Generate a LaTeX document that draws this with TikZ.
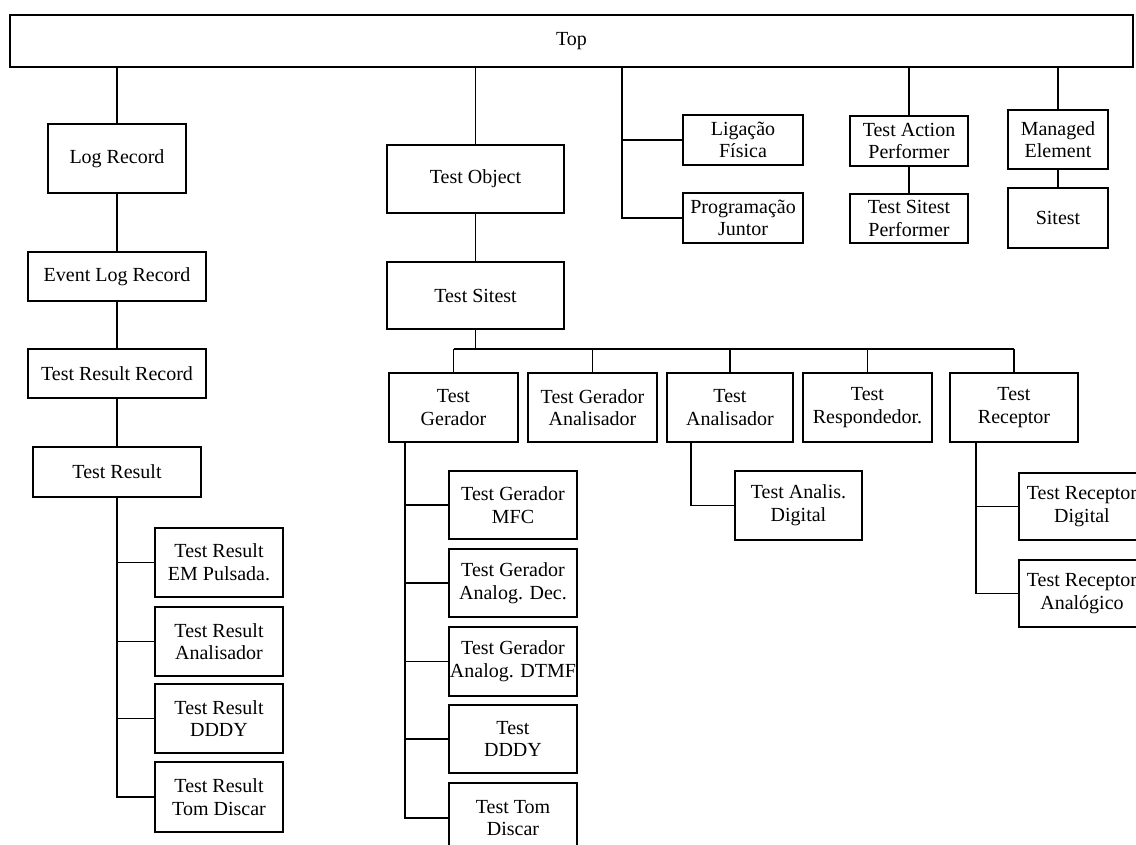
\documentclass[tikz,border=0pt]{standalone}
\usepackage{fontspec}
\setmainfont{Liberation Serif}
\tikzset{
  bx/.style 2 args={draw, inner sep=0pt, align=center,
    minimum width=#1*0.75pt, minimum height=#2*0.75pt,
    font=\fontsize{15}{17}\selectfont}
}
\begin{document}
\begin{tikzpicture}[x=0.75pt,y=0.75pt,yscale=-1,xscale=1,line width=1.4pt]
\useasboundingbox (0,0) rectangle (1136,845);
\clip (0,0) rectangle (1136,845);

% Top
\draw (571.5,41) node [bx={1123}{52}] (top) {Top};

%Column: Log Record
\draw (117,158.5) node [bx={138}{69}] (logrec) {Log Record};
\draw (117,276.5) node [bx={178}{49}] (evlog) {Event Log Record};
\draw (117,373.5) node [bx={178}{49}] (trrec) {Test Result Record};
\draw (117,472) node [bx={168}{50}] (tres) {Test Result};
\draw (219,562.5) node [bx={128}{69}] (trem) {Test Result\\EM Pulsada.};
\draw (219,641.5) node [bx={128}{69}] (tran) {Test Result\\Analisador};
\draw (219,718.5) node [bx={128}{69}] (trdddy) {Test Result\\DDDY};
\draw (219,797) node [bx={128}{70}] (trtom) {Test Result\\Tom Discar};

\draw (top.south -| logrec.north) -- (logrec.north);
\draw (logrec) -- (evlog);
\draw (evlog) -- (trrec);
\draw (trrec) -- (tres);
\draw (tres.south) |- (trtom.west);
\foreach \n in {trem,tran,trdddy}
  \draw (\n.west) -- (\n.west -| tres.south);

%Column: Test Object
\draw (475.5,179) node [bx={177}{68}] (tobj) {Test Object};
\draw (475.5,295.5) node [bx={177}{67}] (tsit) {Test Sitest};
\draw (top.south -| tobj.north) -- (tobj.north);
\draw (tobj) -- (tsit);

%Column: Ligacao / Programacao
\draw (743,140) node [bx={120}{50}] (lig) {Ligação\\Física};
\draw (743,218) node [bx={120}{50}] (prog) {Programação\\Juntor};
\coordinate (ligspine) at (622,0);
\draw (top.south -| ligspine) |- (prog.west);
\draw (lig.west) -- (lig.west -| ligspine);

%Column: Test Action Performer
\draw (909,141) node [bx={118}{50}] (tap) {Test Action\\Performer};
\draw (909,218.5) node [bx={118}{49}] (tsp) {Test Sitest\\Performer};
\draw (top.south -| tap.north) -- (tap.north);
\draw (tap) -- (tsp);

%Column: Managed Element
\draw (1058,139.5) node [bx={100}{59}] (manel) {Managed\\Element};
\draw (1058,218) node [bx={100}{60}] (site) {Sitest};
\draw (top.south -| manel.north) -- (manel.north);
\draw (manel) -- (site);

%Row under Test Sitest
\draw (453.5,407.5) node [bx={129}{69}] (tger) {Test\\Gerador};
\draw (592.5,407.5) node [bx={129}{69}] (tga) {Test Gerador\\Analisador};
\draw (730,407.5) node [bx={126}{69}] (tan) {Test\\Analisador};
\draw (867.5,407.5) node [bx={129}{69}] (tresp) {Test\\Respondedor.};
\draw (1014,407.5) node [bx={128}{69}] (trec) {Test\\Receptor};

\coordinate (bus) at (0,349);
\draw (tsit.south) -- (tsit.south |- bus);
\draw (tger.north |- bus) -- (trec.north |- bus);
\foreach \n in {tger,tga,tan,tresp,trec}
  \draw (\n.north) -- (\n.north |- bus);

%Test Gerador children
\draw (513,505) node [bx={128}{68}] (tgmfc) {Test Gerador\\MFC};
\draw (513,583) node [bx={128}{68}] (tgad) {Test Gerador\\Analog. Dec.};
\draw (513,661.5) node [bx={128}{69}] (tgdtmf) {Test Gerador\\Analog. DTMF};
\draw (513,739) node [bx={128}{68}] (tdddy) {Test\\DDDY};
\draw (513,818) node [bx={128}{70}] (ttom) {Test Tom\\Discar};

\coordinate (tgspine) at ([xshift=12.75pt]tger.south west);
\draw (tgspine) |- (ttom.west);
\foreach \n in {tgmfc,tgad,tgdtmf,tdddy}
  \draw (\n.west) -- (\n.west -| tgspine);

%Test Analisador child
\draw (798.5,505.5) node [bx={127}{69}] (tadig) {Test Analis.\\Digital};
\coordinate (tanspine) at ([xshift=18.75pt]tan.south west);
\draw (tanspine) |- (tadig.west);

%Test Receptor children
\draw (1082,506.5) node [bx={126}{67}] (trdig) {Test Receptor\\Digital};
\draw (1082,593.5) node [bx={126}{67}] (trana) {Test Receptor\\Analógico};
\coordinate (trecspine) at ([xshift=20.25pt]trec.south west);
\draw (trecspine) |- (trana.west);
\draw (trdig.west) -- (trdig.west -| trecspine);
\end{tikzpicture}
\end{document}
